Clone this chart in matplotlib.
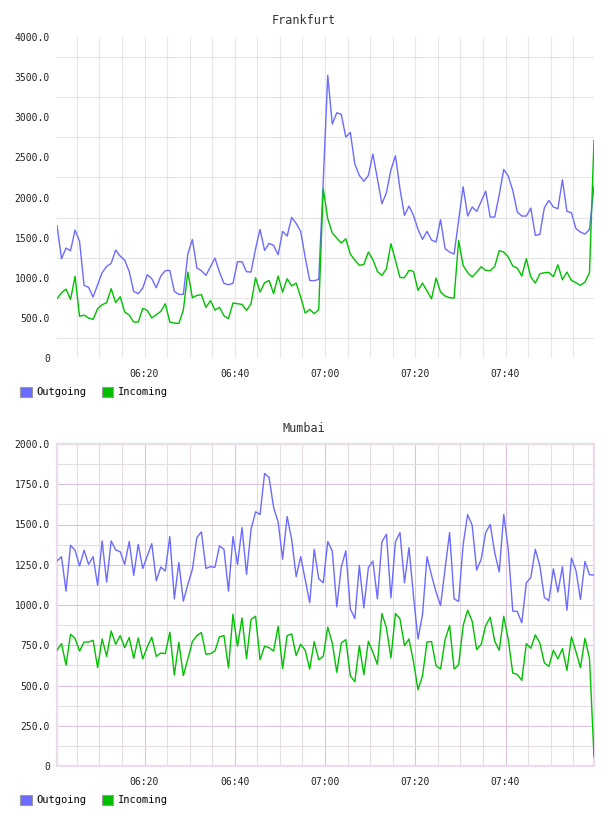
import numpy as np
import matplotlib
matplotlib.use('Agg')
from matplotlib import pyplot as plt
from matplotlib.patches import Patch

plt.rcParams['font.family'] = ['DejaVu Sans Mono']

# one sample per minute, first one at 06:00:35 (minutes after 06:00)
t_start = 0.6
n_points = 120

fra_out = [1652, 1237, 1370, 1337, 1594, 1453, 905, 880, 760, 913,
           1063, 1141, 1179, 1345, 1270, 1220, 1079, 830, 801, 871,
           1038, 988, 876, 1021, 1088, 1092, 830, 793, 793, 1299,
           1478, 1121, 1088, 1029, 1137, 1245, 1071, 930, 913, 930,
           1200, 1200, 1075, 1071, 1362, 1602, 1341, 1428, 1403, 1287,
           1578, 1519, 1752, 1677, 1578, 1254, 967, 963, 980, 2200,
           3521, 2915, 3056, 3035, 2753, 2811, 2416, 2275, 2201, 2275,
           2541, 2234, 1922, 2059, 2346, 2520, 2109, 1777, 1893, 1777,
           1602, 1478, 1578, 1470, 1445, 1723, 1362, 1320, 1295, 1715,
           2134, 1769, 1881, 1827, 1951, 2080, 1756, 1756, 2034, 2350,
           2267, 2088, 1819, 1769, 1769, 1868, 1528, 1540, 1872, 1964,
           1881, 1860, 2221, 1827, 1810, 1611, 1569, 1544, 1602, 2142]
fra_in = [739, 813, 859, 730, 1017, 519, 535, 498, 481, 614,
          664, 689, 863, 689, 764, 573, 535, 448, 448, 618,
          593, 498, 539, 581, 676, 448, 435, 431, 597, 1071,
          751, 780, 789, 631, 714, 597, 631, 527, 489, 685,
          676, 668, 593, 676, 1000, 822, 938, 967, 801, 1021,
          822, 988, 897, 934, 760, 560, 606, 552, 602, 2109,
          1735, 1557, 1494, 1432, 1486, 1295, 1220, 1154, 1166, 1320,
          1225, 1079, 1029, 1112, 1424, 1216, 1004, 1000, 1092, 1079,
          842, 934, 834, 739, 996, 822, 772, 751, 747, 1465,
          1154, 1063, 1009, 1071, 1137, 1092, 1088, 1141, 1337, 1320,
          1258, 1146, 1121, 1021, 1237, 1009, 934, 1050, 1063, 1067,
          1013, 1162, 975, 1071, 967, 938, 905, 946, 1063, 2711]
mum_out = [1273, 1300, 1086, 1371, 1340, 1242, 1340, 1252, 1300, 1122,
           1398, 1142, 1398, 1342, 1331, 1252, 1394, 1184, 1377, 1227,
           1304, 1381, 1151, 1236, 1211, 1425, 1038, 1263, 1024, 1128,
           1221, 1419, 1454, 1227, 1238, 1234, 1367, 1346, 1086, 1425,
           1252, 1481, 1190, 1470, 1579, 1562, 1817, 1792, 1606, 1516,
           1284, 1549, 1408, 1176, 1300, 1159, 1014, 1346, 1163, 1138,
           1394, 1336, 989, 1236, 1336, 976, 916, 1246, 982, 1232,
           1273, 1038, 1392, 1439, 1045, 1392, 1450, 1138, 1356, 1055,
           789, 941, 1300, 1184, 1080, 997, 1225, 1450, 1038, 1022,
           1375, 1562, 1495, 1217, 1284, 1450, 1500, 1325, 1205, 1562,
           1346, 962, 960, 889, 1138, 1171, 1346, 1242, 1047, 1026,
           1225, 1080, 1238, 968, 1292, 1215, 1034, 1271, 1188, 1186]
mum_in = [719, 760, 627, 818, 793, 714, 770, 770, 781, 611,
          789, 681, 839, 756, 810, 735, 798, 669, 795, 665,
          739, 800, 681, 702, 698, 831, 565, 768, 561, 665,
          773, 810, 829, 694, 698, 714, 802, 810, 609, 943,
          744, 920, 667, 910, 930, 660, 744, 735, 714, 868,
          606, 810, 820, 685, 756, 719, 602, 773, 660, 681,
          862, 764, 582, 764, 785, 561, 523, 748, 567, 775,
          706, 631, 947, 858, 671, 947, 914, 748, 789, 648,
          474, 561, 770, 773, 623, 602, 785, 872, 602, 627,
          872, 968, 899, 723, 756, 872, 924, 775, 719, 930,
          785, 577, 569, 532, 760, 731, 814, 764, 640, 619,
          719, 665, 729, 594, 802, 710, 611, 793, 669, 58]

xtick_pos = [20, 40, 60, 80, 100]
xtick_labels = ['06:20', '06:40', '07:00', '07:20', '07:40']
series_names = ['Outgoing', 'Incoming']

c_out = '#6b6bff'
c_in = '#00c000'

t = t_start + np.arange(n_points)

fig = plt.figure(figsize=(6.08, 8.16), dpi=100)


def fmt(v):
    return '0' if v == 0 else '%.1f' % v


def panel(rect, title, title_y, legend_y, out, inc, ymax, ystep, mumbai):
    ax = fig.add_axes(rect)
    ax.plot(t, out, color=c_out, lw=1.0, zorder=3)
    ax.plot(t, inc, color=c_in, lw=1.0, zorder=3)
    ax.set_xlim(t[0], t[-1])
    ax.set_ylim(0, ymax)

    yt = np.arange(0, ymax + 1, ystep)
    ax.set_yticks(yt)
    ax.set_yticklabels([fmt(v) for v in yt])
    ax.set_yticks(yt[:-1] + ystep / 2, minor=True)
    ax.set_xticks(xtick_pos)
    ax.set_xticklabels(xtick_labels)
    ax.set_xticks([m for m in range(5, 120, 5) if m not in xtick_pos], minor=True)
    ax.tick_params(which='both', length=0, labelsize=7, colors='#222222')
    ax.tick_params(axis='y', pad=5)
    ax.tick_params(axis='x', pad=8)

    if mumbai:
        ax.grid(True, which='major', color='#dcc3dc', lw=0.8, zorder=1)
        ax.grid(True, which='minor', color='#e4dde4', lw=0.8, zorder=1)
        for s in ax.spines.values():
            s.set_color('#eadcea')
            s.set_linewidth(1.6)
    else:
        ax.grid(True, which='both', axis='x', color='#e6e6e6', lw=0.8, zorder=1)
        ax.grid(True, which='minor', axis='y', color='#e3e3e3', lw=0.8, zorder=1)
        for s in ax.spines.values():
            s.set_visible(False)
    ax.set_axisbelow(True)

    fig.text(0.5, title_y, title, ha='center', va='center', fontsize=8.5, color='#333333')

    handles = [Patch(facecolor=c_out, edgecolor='#999999', lw=0.8),
               Patch(facecolor=c_in, edgecolor='#999999', lw=0.8)]
    fig.legend(handles, series_names, loc='center left', bbox_to_anchor=(0.033, legend_y),
               ncol=2, frameon=False, fontsize=7.5, handlelength=1.1, handleheight=1.1,
               handletextpad=0.45, columnspacing=1.5, borderpad=0, borderaxespad=0)
    return ax


W, H = 608.0, 816.0
panel([57 / W, 1 - 358 / H, 537 / W, 321 / H], 'Frankfurt', 1 - 20.5 / H, 1 - 392 / H,
      fra_out, fra_in, 4000, 500, False)
panel([57 / W, 1 - 766 / H, 537 / W, 322 / H], 'Mumbai', 1 - 428 / H, 1 - 800 / H,
      mum_out, mum_in, 2000, 250, True)

plt.savefig('out.png', dpi=100)
